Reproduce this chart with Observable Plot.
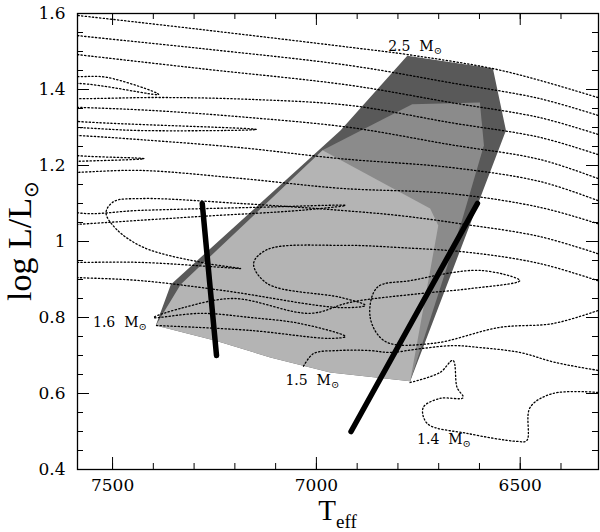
<!DOCTYPE html>
<html><head><meta charset="utf-8">
<script src="https://cdn.jsdelivr.net/npm/d3@7"></script>
<script src="https://cdn.jsdelivr.net/npm/@observablehq/plot@0.6"></script>
<style>body{margin:0;background:#fff}#chart{width:600px;height:532px}</style>
</head><body><div id="chart"></div>
<script>
// ---- axes ----
const teffDomain = [7586, 6308];
const logLDomain = [0.4, 1.6];
const xMajorTicks = [7500, 7000, 6500];
const xMinorTicks = [6400, 6500, 6600, 6700, 6800, 6900, 7000, 7100, 7200, 7300, 7400, 7500];
const yMajorTicks = [0.4, 0.6, 0.8, 1, 1.2, 1.4, 1.6];
const yMinorTicks = [0.4, 0.45, 0.5, 0.55, 0.6, 0.65, 0.7, 0.75, 0.8, 0.85, 0.9, 0.95, 1, 1.05, 1.1, 1.15, 1.2, 1.25, 1.3, 1.35, 1.4, 1.45, 1.5, 1.55, 1.6];

// ---- shaded regions [Teff, logL] ----
const darkRegion = [[7394,0.779],[7357,0.887],[6941,1.292],[6777,1.489],[6567,1.455],[6535,1.292],[6770,0.632],[6966,0.655],[7113,0.695],[7247,0.739]];
const mediumRegion = [[6985,1.240],[6765,1.361],[6599,1.366],[6589,1.253],[6643,1.055],[6770,0.632]];
const lightRegion = [[7394,0.779],[7333,0.887],[6985,1.240],[6721,1.087],[6701,1.042],[6770,0.632],[6966,0.655],[7113,0.695],[7247,0.739]];

// ---- evolutionary tracks [Teff, logL] ----
const track25 = [[6310,1.379],[6452,1.424],[6567,1.455],[6777,1.492],[6917,1.511],[7284,1.558],[7587,1.595],[7675,1.605]];
const track24 = [[6310,1.332],[6452,1.376],[6672,1.418],[6917,1.463],[7284,1.508],[7587,1.542],[7675,1.553]];
const track23 = [[6310,1.282],[6452,1.326],[6672,1.366],[6917,1.411],[7284,1.455],[7587,1.492],[7675,1.503]];
const track22 = [[6310,1.229],[6452,1.274],[6672,1.313],[6917,1.358],[7162,1.374],[7382,1.379],[7587,1.376],[7675,1.379],[7700,1.403],[7587,1.416],[7387,1.387],[7514,1.432],[7587,1.434],[7675,1.437]];
const track21 = [[6310,1.166],[6452,1.216],[6672,1.255],[6917,1.300],[7162,1.326],[7406,1.345],[7587,1.353],[7675,1.355],[7700,1.329],[7587,1.316],[7147,1.295],[7431,1.292],[7587,1.300],[7675,1.303]];
const track20 = [[6310,1.108],[6452,1.158],[6672,1.195],[6941,1.218],[7186,1.247],[7431,1.268],[7587,1.279],[7675,1.282],[7700,1.240],[7587,1.226],[7423,1.218],[7587,1.211],[7675,1.208]];
const track19 = [[6310,1.047],[6452,1.090],[6672,1.126],[6941,1.140],[7186,1.166],[7431,1.187],[7587,1.182],[7675,1.179],[7700,1.121],[7587,1.076],[7431,1.082],[7144,1.090],[6929,1.095],[7039,1.082],[7284,1.066],[7587,1.045],[7675,1.039]];
const track18 = [[6310,0.968],[6452,1.013],[6648,1.047],[6794,1.068],[6941,1.082],[7186,1.100],[7431,1.113],[7497,1.105],[7516,1.076],[7492,1.034],[7423,0.984],[7267,0.942],[7186,0.929],[7259,0.934],[7431,0.945],[7587,0.945],[7675,0.945]];
const track17 = [[6310,0.897],[6452,0.942],[6623,0.971],[6794,0.984],[6941,0.990],[7120,0.979],[7154,0.942],[7120,0.889],[6941,0.853],[6880,0.832],[6941,0.826],[7228,0.871],[7431,0.897],[7587,0.905],[7675,0.908]];
const track16 = [[6310,0.818],[6420,0.784],[6550,0.774],[6714,0.732],[6831,0.737],[6868,0.800],[6851,0.879],[6770,0.897],[6599,0.924],[6501,0.897],[6623,0.876],[6745,0.863],[6917,0.840],[7015,0.811],[7203,0.850],[7326,0.826],[7399,0.800],[7284,0.811],[7162,0.800],[7039,0.784],[6929,0.750],[6966,0.745],[7162,0.766],[7394,0.779]];
const track15 = [[6310,0.661],[6415,0.682],[6501,0.708],[6599,0.721],[6665,0.726],[6745,0.718],[6819,0.708],[6868,0.713],[6949,0.713],[7007,0.705],[7032,0.671]];
const track14 = [[6310,0.603],[6420,0.600],[6476,0.563],[6484,0.476],[6508,0.474],[6630,0.495],[6728,0.521],[6738,0.563],[6697,0.587],[6640,0.589],[6655,0.616],[6665,0.687],[6697,0.655],[6770,0.629]];

// ---- instability strip edges ----
const blueEdge = [[7280,1.10],[7245,0.70]];
const redEdge = [[6605,1.10],[6915,0.50]];

// ---- mass labels ----
const massLabels = ["2.5", "1.6", "1.5", "1.4"];
const massLabelT = [6824, 7548, 7076, 6753];
const massLabelL = [1.512, 0.788, 0.633, 0.478];

const trackList = [["2.5",track25],["2.4",track24],["2.3",track23],["2.2",track22],["2.1",track21],["2.0",track20],["1.9",track19],["1.8",track18],["1.7",track17],["1.6",track16],["1.5",track15],["1.4",track14]];
const trackRows = trackList.flatMap(([m, pts]) => pts.map(([T, L]) => ({mass: m, T, L})));

const W = 600, H = 532, mL = 77, mR = 2, mT = 13, mB = 63;
const FW = W - mL - mR, FH = H - mT - mB;
const MAJ = 12, MIN = 6;

const poly = (pts, fill) => Plot.line(pts, {x: d => d[0], y: d => d[1], fill, stroke: "none", clip: true});

const plot = Plot.plot({
  width: W, height: H, marginLeft: mL, marginRight: mR, marginTop: mT, marginBottom: mB,
  style: {fontFamily: "DejaVu Serif", fontSize: "17px", background: "white", color: "black"},
  x: {domain: teffDomain, label: null},
  y: {domain: logLDomain, label: null},
  marks: [
    poly(darkRegion, "#595959"),
    poly(mediumRegion, "#8b8b8b"),
    poly(lightRegion, "#b4b4b4"),
    Plot.line(trackRows, {x: "T", y: "L", z: "mass", stroke: "black", strokeWidth: 1.3, strokeDasharray: "1.3 2.3", curve: "catmull-rom", clip: true}),
    Plot.line(blueEdge, {x: d => d[0], y: d => d[1], stroke: "black", strokeWidth: 5.5}),
    Plot.line(redEdge, {x: d => d[0], y: d => d[1], stroke: "black", strokeWidth: 5.5}),
    Plot.text(massLabels, {x: (d, i) => massLabelT[i], y: (d, i) => massLabelL[i], text: d => d + "\u00a0\u00a0M", textAnchor: "start", fontSize: 14, fontFamily: "DejaVu Serif", fill: "black"}),
    // ticks (inward) on all four sides
    Plot.tickX(xMajorTicks, {x: d => d, insetTop: FH - MAJ, stroke: "black"}),
    Plot.tickX(xMinorTicks, {x: d => d, insetTop: FH - MIN, stroke: "black"}),
    Plot.tickX(xMajorTicks, {x: d => d, insetBottom: FH - MAJ, stroke: "black"}),
    Plot.tickX(xMinorTicks, {x: d => d, insetBottom: FH - MIN, stroke: "black"}),
    Plot.tickY(yMajorTicks, {y: d => d, insetRight: FW - MAJ, stroke: "black"}),
    Plot.tickY(yMinorTicks, {y: d => d, insetRight: FW - MIN, stroke: "black"}),
    Plot.tickY(yMajorTicks, {y: d => d, insetLeft: FW - MAJ, stroke: "black"}),
    Plot.tickY(yMinorTicks, {y: d => d, insetLeft: FW - MIN, stroke: "black"}),
    Plot.axisX({ticks: xMajorTicks, tickFormat: d3.format("d"), tickSize: 0, tickPadding: 9, label: null}),
    Plot.axisY({ticks: yMajorTicks, tickFormat: d => String(d), tickSize: 0, tickPadding: 12, label: null}),
    Plot.frame({stroke: "black", strokeWidth: 1.3})
  ]
});

const svg = d3.select(plot);
svg.selectAll("text").filter(function () { return /\u00a0\u00a0M$/.test(this.textContent); }).each(function () {
  const t = this.textContent;
  const s = d3.select(this);
  s.text(null);
  s.append("tspan").text(t);
  s.append("tspan").attr("font-size", 10).attr("dy", 3).text("\u2299");
});
// axis titles
const yl = svg.append("text")
  .attr("transform", "translate(31,241) rotate(-90)")
  .attr("text-anchor", "middle")
  .attr("font-family", "Liberation Serif").attr("font-size", 34).attr("fill", "black");
yl.append("tspan").text("log L/L");
yl.append("tspan").attr("font-size", 20).attr("dy", 7).text("\u2299");
const xl = svg.append("text")
  .attr("x", mL + FW / 2).attr("y", 520).attr("text-anchor", "middle")
  .attr("font-family", "Liberation Serif").attr("font-size", 29).attr("fill", "black");
xl.append("tspan").text("T");
xl.append("tspan").attr("font-size", 19).attr("dy", 8).text("eff");

document.getElementById("chart").appendChild(plot);
</script>
</body></html>
